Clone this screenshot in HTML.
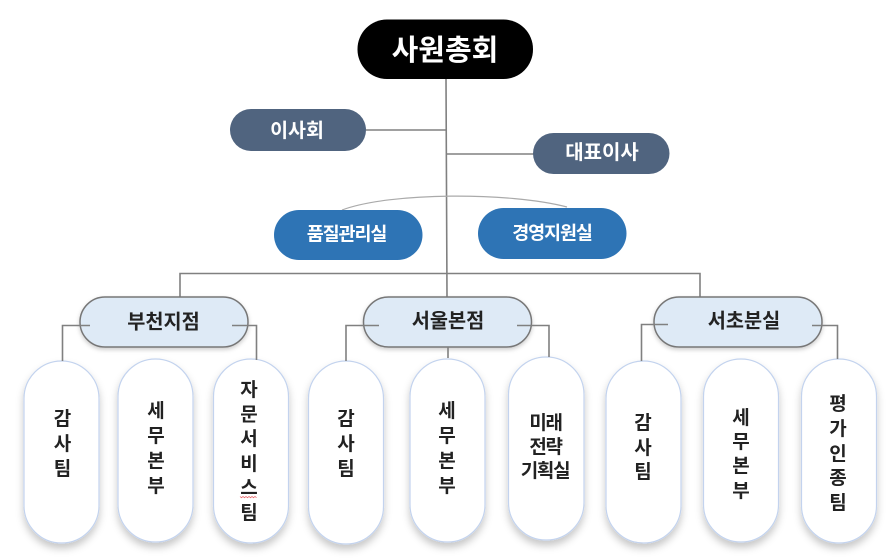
<!DOCTYPE html>
<html lang="ko">
<head>
<meta charset="utf-8">
<style>
html,body{margin:0;padding:0;background:#fff;width:889px;height:559px;overflow:hidden}
svg{display:block}
text{font-family:"Liberation Sans","Noto Sans CJK KR",sans-serif;text-anchor:middle;font-weight:700}
.leaf text{font-size:19px;fill:#222}
.leaf rect{fill:#fff;stroke:#c3d3ee;stroke-width:1.2;filter:url(#sh)}
.br rect{fill:#deeaf6;stroke:#777;stroke-width:1.5;filter:url(#sh2)}
.br text{font-size:19.700px;fill:#222}
.ln{fill:none;stroke:#808080;stroke-width:1.6}
</style>
</head>
<body>
<svg width="889" height="559" viewBox="0 0 889 559" xmlns="http://www.w3.org/2000/svg">
<defs>
<filter id="sh" x="-40%" y="-10%" width="180%" height="125%"><feDropShadow dx="0" dy="5" stdDeviation="4" flood-color="#000" flood-opacity=".22"/></filter>
<filter id="sh2" x="-10%" y="-20%" width="120%" height="150%"><feDropShadow dx="0" dy="2" stdDeviation="2" flood-color="#000" flood-opacity=".2"/></filter>
</defs>

<!-- top connectors -->
<path class="ln" d="M446 78L447 297M366 130H446M447 154H534M180 297V273.500H700V297"/>
<path d="M342 210C390 192 510 192 567 207" fill="none" stroke="#aaa" stroke-width="1.200"/>

<!-- top nodes -->
<rect x="357.500" y="19.500" width="175.500" height="59.500" rx="29.500" fill="#000"/>
<text x="445" y="60" font-size="29" fill="#fff">사원총회</text>

<rect x="230" y="109" width="136" height="42" rx="21" fill="#50647f"/>
<text x="297" y="137" font-size="19.500" fill="#fff">이사회</text>

<rect x="533" y="133" width="136.500" height="41" rx="20.500" fill="#50647f"/>
<text x="602" y="159" font-size="20" fill="#fff">대표이사</text>

<rect x="274" y="210" width="148.500" height="50" rx="25" fill="#2e74b5"/>
<text x="346.500" y="240.500" font-size="18.500" letter-spacing="-1.100" fill="#fff">품질관리실</text>

<rect x="478" y="208" width="148.500" height="51" rx="25.500" fill="#2e74b5"/>
<text x="552" y="239.500" font-size="18.500" letter-spacing="-1.100" fill="#fff">경영지원실</text>

<!-- leaves -->
<g class="leaf">
<rect x="24" y="361" width="75" height="182" rx="37.500"/>
<rect x="118" y="359" width="75" height="183" rx="37.500"/>
<rect x="213.500" y="359" width="75" height="184" rx="37.500"/>
<rect x="308.500" y="361" width="75" height="183" rx="37.500"/>
<rect x="410" y="359" width="75" height="183" rx="37.500"/>
<rect x="508.500" y="357" width="75.500" height="183" rx="37.500"/>
<rect x="606" y="361" width="75" height="182" rx="37.500"/>
<rect x="703.500" y="359" width="75" height="183" rx="37.500"/>
<rect x="801.500" y="359" width="75" height="184" rx="37.500"/>

<text x="62.500" y="425">감</text><text x="62.500" y="450">사</text><text x="62.500" y="475">팀</text>
<text x="156" y="417">세</text><text x="156" y="442">무</text><text x="156" y="467">본</text><text x="156" y="492">부</text>
<text x="249" y="396">자</text><text x="249" y="420.500">문</text><text x="249" y="445">서</text><text x="249" y="470">비</text><text x="249" y="494">스</text><text x="249" y="519">팀</text>
<text x="346" y="425">감</text><text x="346" y="450">사</text><text x="346" y="475">팀</text>
<text x="447" y="417">세</text><text x="447" y="442">무</text><text x="447" y="467">본</text><text x="447" y="492">부</text>
<text x="545.500" y="429" letter-spacing="-1.300">미래</text><text x="545.500" y="453" letter-spacing="-1.300">전략</text><text x="545" y="477" letter-spacing="-1.300">기획실</text>
<text x="643" y="429">감</text><text x="643" y="454">사</text><text x="643" y="478">팀</text>
<text x="741" y="424">세</text><text x="741" y="448">무</text><text x="741" y="472">본</text><text x="741" y="497">부</text>
<text x="838" y="410">평</text><text x="838" y="435">가</text><text x="838" y="460">인</text><text x="838" y="484">종</text><text x="838" y="509">팀</text>
</g>
<path d="M240 496.500l1.500 1.200 1.500-1.200 1.500 1.200 1.500-1.200 1.500 1.200 1.500-1.200 1.500 1.200 1.500-1.200 1.500 1.200 1.500-1.200 1.500 1.200" fill="none" stroke="#e8666a" stroke-width=".8"/>

<!-- branches -->
<g class="br">
<rect x="80" y="297" width="168" height="50" rx="25"/>
<rect x="363.500" y="297" width="168" height="50" rx="25"/>
<rect x="654" y="297" width="168" height="50" rx="25"/>
<text x="163.500" y="328.500">부천지점</text>
<text x="448" y="327.500">서울본점</text>
<text x="744" y="327.500">서초분실</text>
</g>
<path class="ln" d="M90 325.500H62.500V361M232 325.500H256.500V360M379 325.500H346V361M517 325.500H549V357M448 347V358M668 324.500H641.500V361M812 325.500H837.500V359"/>
</svg>
</body>
</html>
